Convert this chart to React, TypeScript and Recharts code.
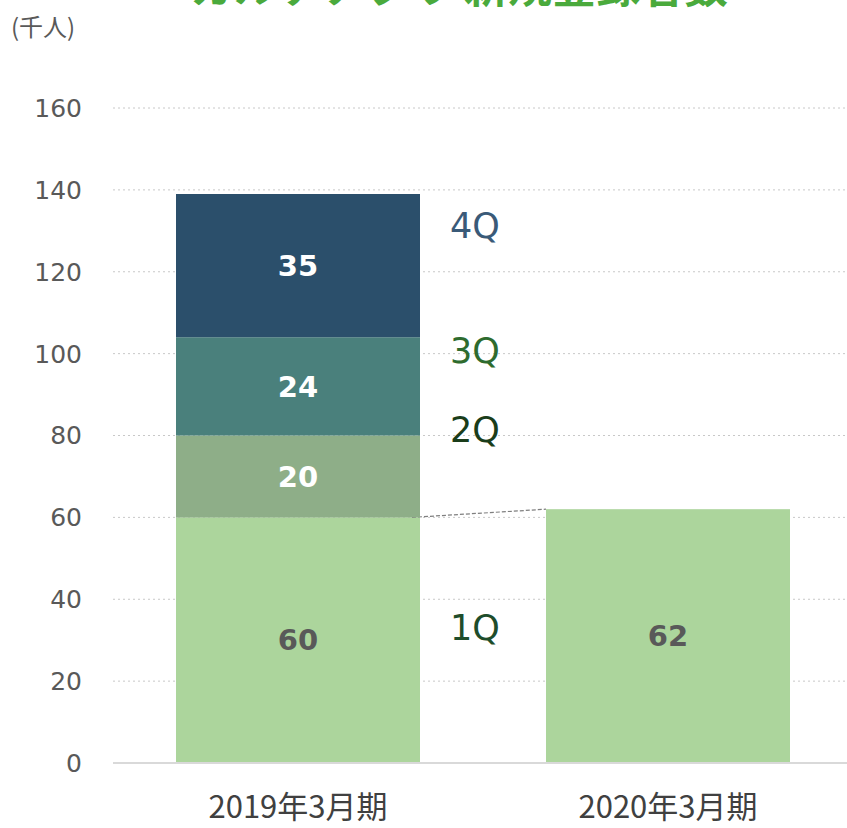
import React from 'react';
import { BarChart, Bar, XAxis, YAxis, CartesianGrid, LabelList } from 'recharts';

const categories = ['2019年3月期', '2020年3月期'];
const q1 = [60, 62];
const q2 = [20, null];
const q3 = [24, null];
const q4 = [35, null];
const yTicks = [0, 20, 40, 60, 80, 100, 120, 140, 160];
const seriesNames = ['1Q', '2Q', '3Q', '4Q'];

const data = categories.map((name, i) => ({
  name,
  q1: q1[i],
  q2: q2[i],
  q3: q3[i],
  q4: q4[i],
}));

const W = 860;
const H = 828;
const MARGIN = { top: 108, right: 7, bottom: 0, left: 0 };
const Y_AXIS_W = 113;
const BAND = (W - MARGIN.left - MARGIN.right - Y_AXIS_W) / categories.length;

const colors = ['#acd59c', '#8eae88', '#4a807c', '#2b4f6b'];
const valueColors = ['#595959', '#ffffff', '#ffffff', '#ffffff'];
const qColors = ['#1e4d2b', '#1a3d1a', '#2e6b2e', '#3a5a78'];
const qNudge = [-12, -46, -35, -40]; // label offsets from segment centre
const numFont = '"DejaVu Sans", Verdana, sans-serif';
const jpFont = '"Noto Sans CJK JP", sans-serif';

// 1Q bar with the dashed connector to the next period's bar
const ConnectorBar = (props: any) => {
  const { x, y, width, height, fill, index } = props;
  let line = null;
  if (index === 0 && height > 0) {
    const pxPerUnit = height / q1[0];
    const y2 = y + height - q1[1] * pxPerUnit;
    const x2 = x + BAND;
    line = (
      <line x1={x + width - 8} y1={y} x2={x2} y2={y2} stroke="#7f7f7f" strokeWidth={1.2} strokeDasharray="4 2" />
    );
  }
  return (
    <g>
      <rect x={x} y={y} width={width} height={height} fill={fill} />
      {line}
    </g>
  );
};

const makeQLabel = (s: number) => (props: any) => {
  const vb = props.viewBox || props;
  const { x, y, width, height } = vb;
  if (props.index !== 0) return null;
  return (
    <text
      x={x + width + 30}
      y={y + height / 2 + qNudge[s]}
      fill={qColors[s]}
      fontSize={35}
      fontFamily={numFont}
      textAnchor="start"
      dominantBaseline="central"
    >
      {seriesNames[s]}
    </text>
  );
};

const keys = ['q1', 'q2', 'q3', 'q4'];

export default function App() {
  return (
    <div style={{ position: 'absolute', left: 0, top: 0, width: 847, height: H, overflow: 'hidden', background: '#fff' }}>
      <div
        style={{
          position: 'absolute',
          left: 190,
          top: -38,
          fontSize: 44,
          lineHeight: '44px',
          fontWeight: 'bold',
          color: '#4aaa3c',
          fontFamily: jpFont,
          whiteSpace: 'nowrap',
        }}
      >
        カルテアプリ 新規登録者数
      </div>
      <div
        style={{
          position: 'absolute',
          left: 11,
          top: 10,
          fontSize: 24,
          lineHeight: '32px',
          color: '#595959',
          fontFamily: jpFont,
        }}
      >
        (千人)
      </div>
      <BarChart width={W} height={H} data={data} margin={MARGIN} barSize={244}>
        <CartesianGrid vertical={false} stroke="#c8c8c8" strokeDasharray="2 3" />
        <XAxis
          dataKey="name"
          height={65}
          tickSize={0}
          tickLine={false}
          tickMargin={33}
          axisLine={{ stroke: '#d9d9d9', strokeWidth: 2 }}
          tick={{ fill: '#404040', fontSize: 31, fontFamily: jpFont }}
        />
        <YAxis
          width={Y_AXIS_W}
          domain={[0, 160]}
          ticks={yTicks}
          interval={0}
          tickSize={0}
          tickLine={false}
          tickMargin={31}
          axisLine={false}
          tick={{ fill: '#595959', fontSize: 25, fontFamily: numFont }}
        />
        {keys.map((k, s) => (
          <Bar
            key={k}
            dataKey={k}
            stackId="a"
            fill={colors[s]}
            isAnimationActive={false}
            shape={s === 0 ? ConnectorBar : undefined}
          >
            <LabelList
              dataKey={k}
              position="center"
              fill={valueColors[s]}
              fontSize={29}
              fontWeight="bold"
              fontFamily={numFont}
            />
            <LabelList dataKey={k} content={makeQLabel(s)} />
          </Bar>
        ))}
      </BarChart>
    </div>
  );
}
